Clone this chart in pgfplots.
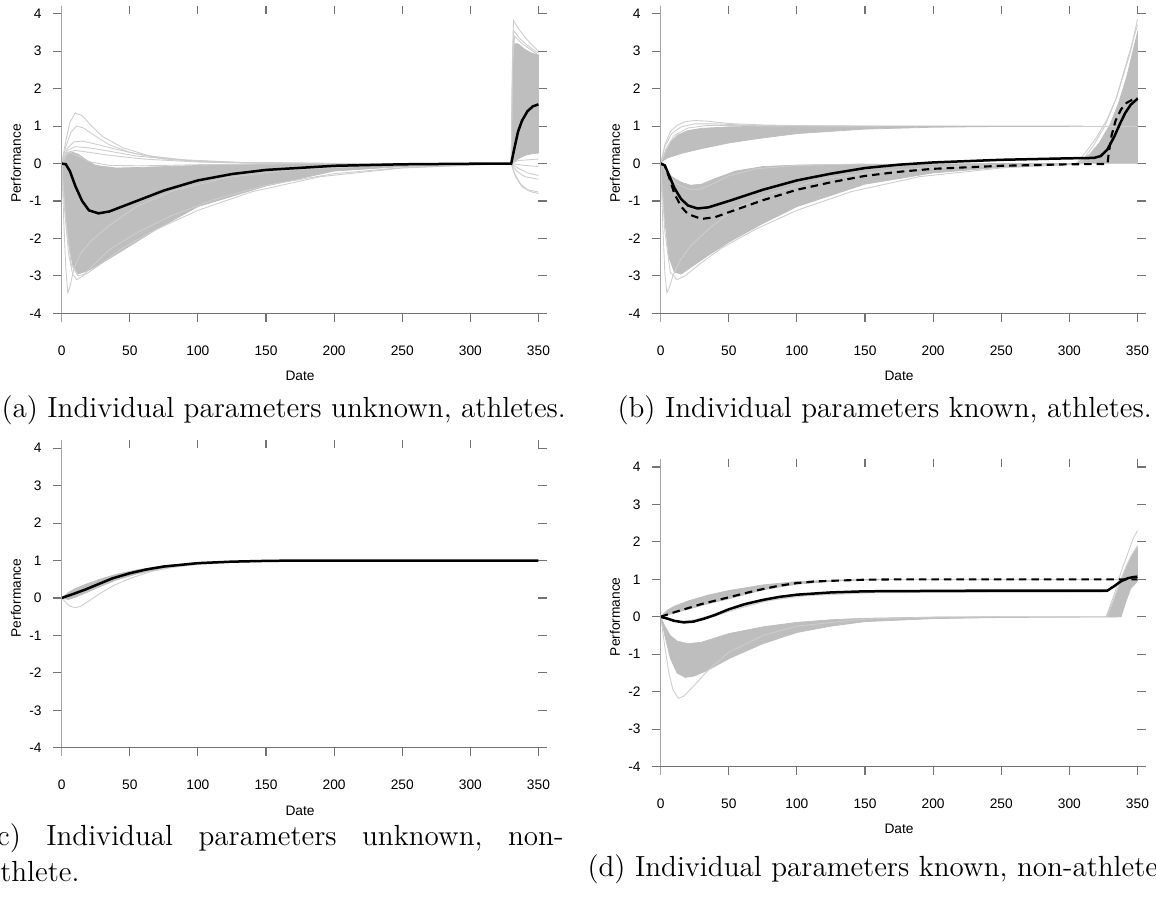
\documentclass[border=0pt]{standalone}
\usepackage{fontspec}
\usepackage{pgfplots}
\pgfplotsset{compat=1.18}
\newfontfamily\rfont{Liberation Sans}
\definecolor{rgray}{RGB}{190,190,190}
\definecolor{lgray}{RGB}{205,205,205}
\definecolor{tickgray}{RGB}{115,115,115}
\definecolor{axgray}{RGB}{165,165,165}

% R base-graphics look: ticks outside on all four sides, lines on left/bottom
\pgfplotsset{
  rplot/.style={
    scale only axis, width=190.7pt, height=119.8pt,
    xmin=0, xmax=350, ymin=-4, ymax=4,
    xtick={0,50,100,150,200,250,300,350},
    xticklabels={0,50,100,150,200,250,300,350},
    ytick={-4,-3,-2,-1,0,1,2,3,4},
    yticklabels={-4,-3,-2,-1,0,1,2,3,4},
    tick align=outside, tick pos=both, major tick length=3.3pt,
    separate axis lines, axis line style={draw=none},
    tick style={tickgray, line width=0.45pt},
    tick label style={font=\fontsize{5.5}{6}\rfont},
    xticklabel shift=6.2pt, yticklabel shift=1.2pt,
    clip=false,
  },
  band/.style={fill=rgray, draw=rgray, line width=0.3pt},
  thin/.style={lgray, line width=0.35pt},
  mean/.style={black, line width=1pt},
  dmean/.style={black, line width=0.85pt, dash pattern=on 3pt off 2pt},
}
\newcommand\rframe{%
  \draw[axgray, line width=0.6pt] ([yshift=3.3pt]rel axis cs:0,1) -- ([yshift=-3.3pt]rel axis cs:0,0);
  \draw[tickgray, line width=0.5pt] ([xshift=-3.3pt]rel axis cs:0,0) -- ([xshift=3.3pt]rel axis cs:1,0);
  \node[font=\fontsize{5.5}{6}\rfont] at ([yshift=-25.1pt]rel axis cs:0.5,0) {Date};
  \node[font=\fontsize{5.5}{6}\rfont, rotate=90] at ([xshift=-18.3pt]rel axis cs:0,0.5) {Performance};
}

\begin{document}
\begin{tikzpicture}
\useasboundingbox (0,0) rectangle (462.4pt,-361.2pt);

% ---------------- (a) ----------------
\begin{axis}[rplot, at={(24.68pt,-125.32pt)}, anchor=south west]
\addplot[band] coordinates {(0,0) (2,0.15) (4,0.25) (8,0.3) (12,0.25) (18,0.1) (25,-0.05) (40,-0.12) (60,-0.1) (100,-0.05) (150,-0.02) (200,-0.01) (250,0) (330,0) (300,-0.03) (250,-0.08) (200,-0.2) (150,-0.6) (100,-1.15) (70,-1.75) (50,-2.2) (30,-2.65) (20,-2.85) (12,-2.95) (8,-2.7) (5,-2.1) (2,-0.9) (0,0)} -- cycle;
\addplot[band] coordinates {(330,0) (331.2,2.5) (332,3.2) (335,3.2) (340,3.05) (345,2.95) (350,2.9) (350,0.28) (345,0.26) (340,0.22) (335,0.12) (330,0)} -- cycle;
\addplot[thin] coordinates {(0,0) (3,0.6) (6,1.1) (10,1.35) (15,1.28) (22,1.0) (30,0.72) (45,0.42) (65,0.2) (90,0.08) (130,0.02) (200,0)};
\addplot[thin] coordinates {(0,0) (3,0.45) (7,0.85) (11,1.0) (16,0.95) (24,0.75) (35,0.5) (50,0.3) (75,0.12) (110,0.04) (160,0.01) (220,0)};
\addplot[thin] coordinates {(0,0) (4,0.4) (9,0.58) (15,0.6) (25,0.52) (40,0.38) (60,0.22) (90,0.1) (130,0.03) (200,0)};
\addplot[thin] coordinates {(0,0) (4,0.35) (10,0.45) (20,0.42) (35,0.33) (55,0.2) (85,0.1) (130,0.03) (200,0)};
\addplot[thin] coordinates {(0,0) (4,0.3) (10,0.35) (20,0.3) (35,0.22) (60,0.12) (100,0.04) (160,0)};
\addplot[thin] coordinates {(0,0) (5,0.3) (12,0.2) (20,0.05) (35,-0.05) (60,-0.06) (100,-0.03) (180,0)};
\addplot[thin] coordinates {(0,0) (1.5,-1.5) (3,-2.8) (4.5,-3.45) (6,-3.3) (9,-2.8) (14,-2.4) (22,-2.05) (35,-1.65) (55,-1.15) (80,-0.75) (120,-0.38) (170,-0.16) (230,-0.06) (300,-0.01) (330,0)};
\addplot[thin] coordinates {(0,0) (2,-1.2) (5,-2.4) (8,-2.95) (11,-3.1) (15,-3.02) (22,-2.75) (35,-2.3) (55,-1.85) (80,-1.4) (110,-0.98) (150,-0.58) (200,-0.27) (250,-0.11) (300,-0.03) (330,0)};
\addplot[thin] coordinates {(0,0) (3,-1.5) (7,-2.7) (12,-3.0) (18,-2.95) (28,-2.7) (45,-2.25) (70,-1.75) (100,-1.25) (140,-0.75) (190,-0.35) (250,-0.12) (330,0)};
\addplot[thin] coordinates {(330,0) (331,3.0) (331.7,3.82) (335,3.62) (340,3.38) (345,3.18) (350,3.0)};
\addplot[thin] coordinates {(330,0) (331,2.8) (332,3.55) (336,3.35) (342,3.15) (350,2.95)};
\addplot[thin] coordinates {(330,0) (331,2.6) (332.5,3.4) (338,3.2) (344,3.05) (350,2.9)};
\addplot[thin] coordinates {(330,0) (333,-0.3) (337,-0.55) (342,-0.7) (350,-0.76)};
\addplot[thin] coordinates {(330,0) (333,-0.35) (338,-0.62) (344,-0.75) (350,-0.8)};
\addplot[thin] coordinates {(330,0) (334,-0.2) (340,-0.35) (350,-0.42)};
\addplot[thin] coordinates {(330,0) (335,-0.12) (342,-0.25) (350,-0.32)};
\addplot[thin] coordinates {(330,0) (340,-0.05) (350,-0.08)};
\addplot[thin] coordinates {(330,0) (335,0.08) (350,0.12)};
\addplot[mean] coordinates {(0,0) (3,-0.02) (6,-0.2) (10,-0.6) (15,-1.0) (20,-1.25) (27,-1.33) (35,-1.28) (50,-1.07) (75,-0.72) (100,-0.45) (125,-0.28) (150,-0.17) (200,-0.06) (250,-0.02) (300,-0.005) (330,0) (332,0.35) (335,0.85) (338,1.15) (342,1.4) (346,1.53) (350,1.58)};
\rframe
\end{axis}

% ---------------- (b) ----------------
\begin{axis}[rplot, at={(264.28pt,-125.32pt)}, anchor=south west]
\addplot[band] coordinates {(0,0) (2,0.15) (4,0.35) (8,0.6) (12,0.75) (20,0.88) (30,0.94) (50,0.98) (80,1.0) (310,1.0) (310,0.99) (250,0.99) (200,0.97) (150,0.92) (100,0.8) (70,0.66) (50,0.55) (30,0.4) (15,0.27) (5,0.15) (2,0.08) (0,0)} -- cycle;
\addplot[band] coordinates {(0,0) (3,-0.15) (8,-0.35) (15,-0.5) (22,-0.58) (30,-0.55) (40,-0.4) (55,-0.2) (75,-0.08) (100,-0.04) (150,-0.02) (250,0) (310,0) (300,-0.03) (250,-0.1) (200,-0.25) (150,-0.55) (100,-1.15) (75,-1.6) (50,-2.1) (35,-2.45) (25,-2.7) (15,-2.95) (10,-2.9) (6,-2.5) (3,-1.5) (0,0)} -- cycle;
\addplot[band] coordinates {(305,0) (315,0.25) (322,0.55) (330,1.05) (336,1.6) (342,2.3) (346,2.9) (350,3.5) (350,0)} -- cycle;
\addplot[thin] coordinates {(0,0) (3,0.5) (7,0.85) (12,1.02) (18,1.12) (25,1.15) (35,1.13) (50,1.07) (75,1.03) (110,1.01) (160,1.0)};
\addplot[thin] coordinates {(0,0) (3,0.45) (8,0.8) (15,0.98) (25,1.06) (40,1.06) (60,1.03) (90,1.01) (140,1.0)};
\addplot[thin] coordinates {(0,0) (4,0.4) (10,0.75) (20,0.95) (35,1.02) (55,1.02) (90,1.0)};
\addplot[thin] coordinates {(300,1) (350,1)};
\addplot[thin] coordinates {(0,0) (5,-0.3) (12,-0.55) (20,-0.68) (28,-0.7) (38,-0.55) (50,-0.33) (70,-0.14) (100,-0.05) (150,-0.01)};
\addplot[thin] coordinates {(0,0) (1.5,-1.6) (3,-2.9) (4.5,-3.45) (6,-3.35) (9,-3.0) (14,-2.6) (22,-2.2) (35,-1.75) (55,-1.2) (80,-0.8) (120,-0.4) (170,-0.17) (230,-0.06) (310,0)};
\addplot[thin] coordinates {(0,0) (3,-1.8) (7,-2.9) (12,-3.1) (18,-3.0) (28,-2.7) (45,-2.25) (70,-1.75) (100,-1.25) (140,-0.75) (190,-0.35) (250,-0.12) (310,0)};
\addplot[thin] coordinates {(305,0) (312,0.3) (320,0.7) (328,1.2) (335,1.8) (340,2.4) (345,3.0) (350,3.85)};
\addplot[thin] coordinates {(308,0) (318,0.5) (326,1.0) (334,1.7) (342,2.7) (350,3.7)};
\addplot[thin] coordinates {(310,0) (350,0)};
\addplot[dmean] coordinates {(0,0) (3,-0.05) (6,-0.35) (10,-0.8) (15,-1.15) (20,-1.35) (30,-1.48) (40,-1.43) (50,-1.3) (75,-0.98) (100,-0.7) (125,-0.5) (150,-0.33) (175,-0.22) (200,-0.14) (250,-0.06) (300,-0.02) (328,-0.01) (329,0.3) (331,0.75) (334,1.15) (338,1.45) (342,1.62) (346,1.7) (350,1.75)};
\addplot[mean] coordinates {(0,0) (3,-0.05) (6,-0.3) (10,-0.65) (15,-0.95) (20,-1.12) (27,-1.2) (35,-1.17) (50,-1.0) (75,-0.7) (100,-0.45) (125,-0.27) (150,-0.12) (175,-0.03) (200,0.03) (250,0.1) (300,0.14) (318,0.15) (323,0.2) (328,0.38) (333,0.72) (337,1.05) (341,1.35) (345,1.57) (350,1.73)};
\rframe
\end{axis}

% ---------------- (c) ----------------
\begin{axis}[rplot, at={(24.68pt,-299.08pt)}, anchor=south west]
\addplot[band] coordinates {(0,0) (5,0.15) (10,0.25) (18,0.37) (28,0.5) (40,0.63) (55,0.75) (75,0.86) (100,0.94) (130,0.98) (165,1.0) (165,0.99) (130,0.96) (100,0.9) (75,0.8) (55,0.64) (40,0.48) (28,0.3) (18,0.14) (10,0.02) (5,-0.04) (2,-0.02) (0,0)} -- cycle;
\addplot[thin] coordinates {(0,0) (3,-0.12) (6,-0.22) (10,-0.26) (14,-0.22) (20,-0.08) (28,0.12) (38,0.33) (50,0.52) (65,0.7) (80,0.81) (100,0.9) (130,0.96) (170,0.99)};
\addplot[mean] coordinates {(0,0) (8,0.1) (17,0.22) (27,0.37) (37,0.52) (50,0.66) (62,0.76) (75,0.84) (100,0.93) (125,0.97) (150,0.99) (175,1) (350,1)};
\rframe
\end{axis}

% ---------------- (d) ----------------
\begin{axis}[rplot, at={(264.28pt,-306.6pt)}, anchor=south west]
\addplot[band] coordinates {(0,0) (5,0.18) (10,0.28) (20,0.42) (35,0.58) (50,0.7) (75,0.85) (100,0.94) (130,0.98) (160,1.0) (160,0.99) (130,0.96) (100,0.87) (75,0.72) (50,0.48) (35,0.35) (20,0.2) (10,0.1) (0,0)} -- cycle;
\addplot[band] coordinates {(0,0) (3,-0.25) (7,-0.5) (12,-0.65) (20,-0.72) (30,-0.68) (50,-0.45) (75,-0.27) (100,-0.15) (125,-0.08) (150,-0.04) (200,-0.01) (250,0) (335,0) (335,-0.005) (250,-0.02) (200,-0.05) (150,-0.13) (125,-0.25) (100,-0.42) (75,-0.72) (50,-1.12) (35,-1.42) (25,-1.58) (18,-1.62) (12,-1.5) (7,-1.1) (3,-0.5) (0,0)} -- cycle;
\addplot[band] coordinates {(327,0) (332,0.4) (337,0.9) (342,1.35) (346,1.65) (350,1.85) (350,0.95) (345,0.75) (341,0.35) (338,0)} -- cycle;
\addplot[thin] coordinates {(0,0) (3,-0.8) (6,-1.5) (9,-1.95) (13,-2.18) (17,-2.12) (25,-1.82) (35,-1.42) (50,-0.95) (75,-0.5) (100,-0.25) (150,-0.06) (200,-0.01) (250,0)};
\addplot[thin] coordinates {(0,0) (8,-0.08) (16,-0.12) (25,-0.08) (35,0.02) (50,0.19) (75,0.41) (100,0.55) (150,0.64) (200,0.65) (328,0.66)};
\addplot[thin] coordinates {(0,0) (8,-0.1) (17,-0.16) (27,-0.12) (40,0.02) (55,0.2) (80,0.44) (110,0.58) (160,0.65) (328,0.67)};
\addplot[thin] coordinates {(327,0) (333,0.6) (338,1.2) (343,1.7) (347,2.1) (350,2.3)};
\addplot[thin] coordinates {(328,0) (334,0.6) (340,1.2) (345,1.6) (350,1.9)};
\addplot[thin] coordinates {(160,1) (350,1)};
\addplot[dmean] coordinates {(0,0) (10,0.12) (20,0.23) (30,0.34) (40,0.43) (50,0.52) (62,0.63) (75,0.74) (87,0.83) (100,0.9) (112,0.94) (125,0.96) (150,0.99) (175,1) (350,1)};
\addplot[mean] coordinates {(0,0) (5,-0.05) (10,-0.11) (17,-0.15) (24,-0.13) (32,-0.05) (40,0.05) (50,0.2) (62,0.34) (75,0.45) (87,0.53) (100,0.59) (125,0.65) (150,0.68) (200,0.69) (250,0.7) (328,0.7) (333,0.82) (338,0.95) (343,1.03) (347,1.06) (350,1.07)};
\rframe
\end{axis}

% ---------------- captions ----------------
\begin{scope}[every node/.style={inner sep=0pt, anchor=base west, font=\fontsize{11.65}{14}\selectfont}]
\node at (0.4pt,-166.8pt) {(a) Individual parameters unknown, athletes.};
\node at (246.8pt,-166.8pt) {(b) Individual parameters known, athletes.};
\node at (-5.8pt,-338pt) {\hbox to 231pt{(c)\hfill Individual\hfill parameters\hfill unknown,\hfill non-}};
\node at (-5.8pt,-352.4pt) {athlete.};
\node at (234.8pt,-350.4pt) {(d) Individual parameters known, non-athlete.};
\end{scope}
\end{tikzpicture}
\end{document}
